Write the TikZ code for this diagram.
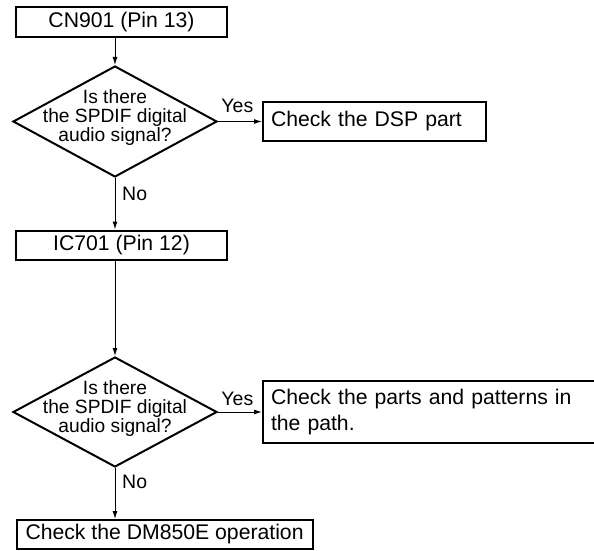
\documentclass[tikz,border=0pt]{standalone}
\usepackage{fontspec}
\setmainfont{Liberation Sans}
\usetikzlibrary{arrows.meta, shapes.geometric, positioning}

\begin{document}
\begin{tikzpicture}[x=1pt, y=1pt,
  box/.style={draw, line width=2, inner sep=0, font=\fontsize{21.2}{26}\selectfont},
  notebox/.style={box, anchor=west, inner xsep=8, align=left},
  decision/.style={draw, diamond, line width=2, inner sep=0, minimum width=204, minimum height=111},
  question/.style={align=center, inner sep=0, font=\fontsize{19.2}{19}\selectfont},
  answer/.style={inner sep=0, font=\fontsize{19.5}{20}\selectfont},
  flow/.style={-{Latex[length=8,width=5]}, line width=1}
]
\useasboundingbox (0,0) rectangle (594,550);

% first check
\node[box, minimum width=211, minimum height=30] (cn901) at (121.5,527.5) {CN901 (Pin 13)};
\node[decision] (q1) at (115,428.5) {};
\node[question] (q1text) at (115,432) {Is there\\the SPDIF digital\\audio signal?};
\node[notebox, minimum height=39, text width=207] (dsp) at (262,428.5) {Check the DSP part};

\draw[flow] (q1.north |- cn901.south) -- (q1.north);
\draw[flow] (q1.east) -- (dsp.west);
\node[answer, anchor=base east] (yes1) at (253.5,437) {Yes};

% second check
\node[box, minimum width=211, minimum height=29] (ic701) at (121.5,305) {IC701 (Pin 12)};
\draw[flow] (q1.south) -- (q1.south |- ic701.north);
\node[answer, anchor=base west] (no1) at (122,350) {No};

\node[decision, minimum height=110] (q2) at (115,138) {};
\node[question] (q2text) at (115,141.5) {Is there\\the SPDIF digital\\audio signal?};
\node[notebox, minimum height=62, text width=334] (parts) at (262,138) {Check the parts and patterns in\\the path.};

\draw[flow] (q2.north |- ic701.south) -- (q2.north);
\draw[flow] (q2.east) -- (parts.west);
\node[answer, anchor=base east] (yes2) at (253.5,145) {Yes};

\node[box, anchor=west, minimum width=295, minimum height=29, inner xsep=9] (dm850e) at (15.5,15.5) {Check the DM850E operation};
\draw[flow] (q2.south) -- (q2.south |- dm850e.north);
\node[answer, anchor=base west] (no2) at (122,62) {No};

\end{tikzpicture}
\end{document}
